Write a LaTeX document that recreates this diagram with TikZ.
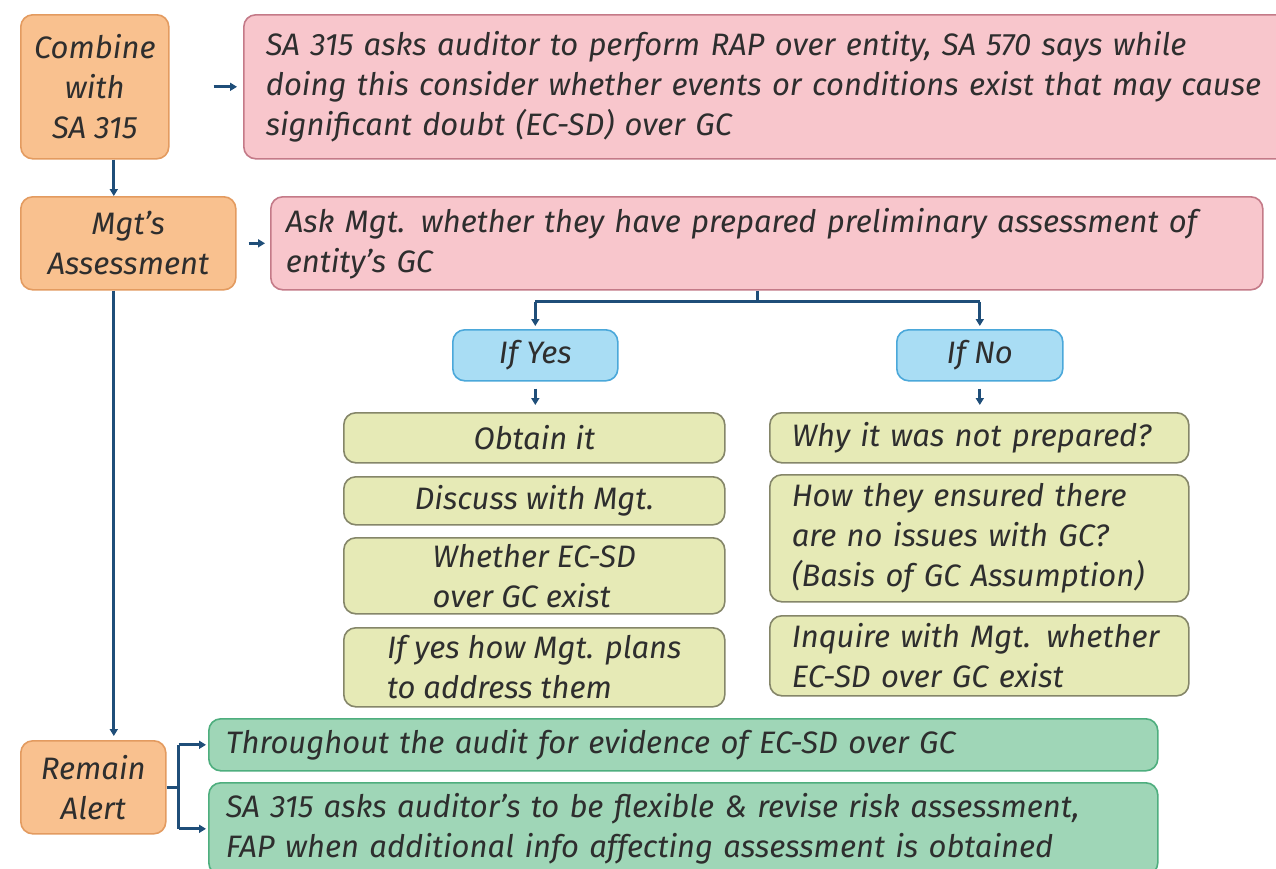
\documentclass[tikz,border=0pt]{standalone}
\usepackage{fontspec}
\setmainfont{Fira Sans}
\usetikzlibrary{arrows.meta}
\definecolor{inkc}{HTML}{2E2E2E}
\definecolor{arrc}{HTML}{1F4E79}
\definecolor{orfill}{HTML}{F9C18F}
\definecolor{ordraw}{HTML}{E39B60}
\definecolor{pkfill}{HTML}{F8C6CC}
\definecolor{pkdraw}{HTML}{C47A88}
\definecolor{blfill}{HTML}{A9DDF4}
\definecolor{bldraw}{HTML}{4BA8DA}
\definecolor{ylfill}{HTML}{E6EAB6}
\definecolor{yldraw}{HTML}{858669}
\definecolor{grfill}{HTML}{9FD6B7}
\definecolor{grdraw}{HTML}{4EAE7E}
\tikzset{
  card/.style={rounded corners=12pt, line width=1.6pt, anchor=north west,
    inner ysep=0pt, font=\fontsize{31}{40}\selectfont\itshape, text=inkc},
  orbox/.style={card, draw=ordraw, fill=orfill, align=center},
  pkbox/.style={card, draw=pkdraw, fill=pkfill, align=left},
  blbox/.style={card, draw=bldraw, fill=blfill, align=center},
  ylbox/.style={card, draw=yldraw, fill=ylfill},
  grbox/.style={card, draw=grdraw, fill=grfill, align=left},
  link/.style={draw=arrc, line width=3pt},
  arr/.style={link, -{Triangle[length=7pt,width=8pt]}},
}
\begin{document}
\begin{tikzpicture}[x=1pt,y=-1pt]
\useasboundingbox (0,0) rectangle (1276,868);
\fill[white] (0,0) rectangle (1276,868);

% left column headings
\node[orbox, minimum width=148pt, minimum height=144pt, inner xsep=2pt] (comb) at (20,14)
  {Combine\\with\\SA 315};
\node[orbox, minimum width=215pt, minimum height=93pt, inner xsep=2pt] (mgt) at (20,196)
  {Mgt's\\Assessment};
\node[orbox, minimum width=145pt, minimum height=93pt, inner xsep=2pt] (ra) at (20,740)
  {Remain\\Alert};

% pink statements
\node[pkbox, minimum height=144pt, inner xsep=22pt, text width=1020pt] (p1) at (243,14)
  {SA 315 asks auditor to perform RAP over entity, SA 570 says while\\
   doing this consider whether events or conditions exist that may cause\\
   significant doubt (EC-SD) over GC};
\node[pkbox, minimum height=93pt, inner xsep=15pt, text width=962pt] (p2) at (270,196)
  {Ask Mgt. whether they have prepared preliminary assessment of\\
   entity's GC};

% branches
\node[blbox, minimum width=165pt, minimum height=51pt, inner xsep=2pt] (yes) at (452,329) {If Yes};
\node[blbox, minimum width=166pt, minimum height=51pt, inner xsep=2pt] (no) at (896,329) {If No};

% if yes
\node[ylbox, align=center, minimum width=381pt, minimum height=50pt, inner xsep=2pt] (l1) at (343,412)
  {Obtain it};
\node[ylbox, align=center, minimum width=381pt, minimum height=48pt, inner xsep=2pt] (l2) at (343,476)
  {Discuss with Mgt.};
\node[ylbox, align=left, minimum width=381pt, minimum height=76pt, inner xsep=2pt] (l3) at (343,537)
  {Whether EC-SD\\over GC exist};
\node[ylbox, align=left, minimum width=381pt, minimum height=79pt, inner xsep=2pt] (l4) at (343,627)
  {If yes how Mgt. plans\\to address them};

% if no
\node[ylbox, align=left, minimum height=50pt, inner xsep=22pt, text width=375pt] (r1) at (769,412)
  {Why it was not prepared?};
\node[ylbox, align=left, minimum height=127pt, inner xsep=22pt, text width=375pt] (r2) at (769,474)
  {How they ensured there\\are no issues with GC?\\(Basis of GC Assumption)};
\node[ylbox, align=left, minimum height=80pt, inner xsep=22pt, text width=375pt] (r3) at (769,615)
  {Inquire with Mgt. whether\\EC-SD over GC exist};

% remain alert
\node[grbox, minimum height=52pt, inner xsep=17pt, text width=915pt] (g1) at (208,718)
  {Throughout the audit for evidence of EC-SD over GC};
\node[grbox, minimum height=92pt, inner xsep=17pt, text width=915pt] (g2) at (208,782)
  {SA 315 asks auditor's to be flexible \& revise risk assessment,\\
   FAP when additional info affecting assessment is obtained};

% connectors
\draw[arr, shorten <=44pt, shorten >=6pt] (comb.east) -- (comb.east -| p1.west);
\draw[arr] ([xshift=19pt]comb.south) -- ([xshift=19pt]comb.south |- mgt.north);
\draw[arr, shorten <=12pt, shorten >=5pt] (mgt.east) -- (mgt.east -| p2.west);
\draw[link] ([xshift=-9pt]p2.south) -- ++(0,11) coordinate (j);
\draw[link] (yes.north |- j) -- (no.north |- j);
\draw[arr, shorten >=3pt] (yes.north |- j) -- (yes.north);
\draw[arr, shorten >=3pt] (no.north |- j) -- (no.north);
\draw[arr, shorten <=7pt, shorten >=7pt] (yes.south) -- (yes.south |- l1.north);
\draw[arr, shorten <=7pt, shorten >=7pt] (no.south) -- (no.south |- r1.north);
\draw[arr, shorten >=4pt] ([xshift=-14.5pt]mgt.south) -- ([xshift=-14.5pt]mgt.south |- ra.north);
\draw[link] (ra.east) -- ++(12,0) coordinate (b);
\draw[link] (b |- g1.west) -- (b |- g2.west);
\draw[arr, shorten >=2pt] (b |- g1.west) -- (g1.west);
\draw[arr, shorten >=2pt] (b |- g2.west) -- (g2.west);
\end{tikzpicture}
\end{document}
